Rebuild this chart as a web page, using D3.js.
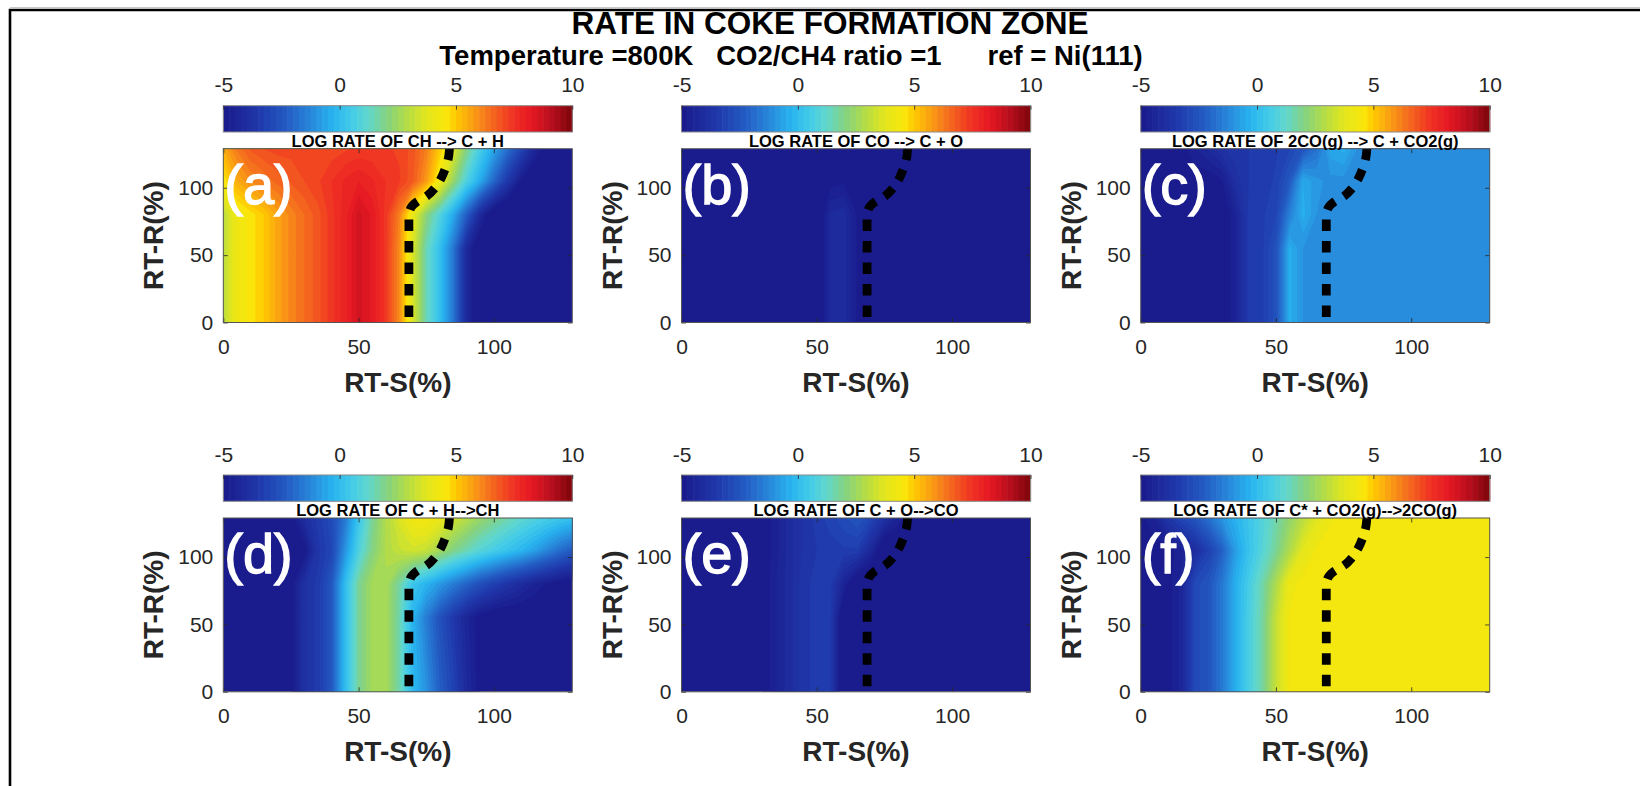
<!DOCTYPE html>
<html>
<head>
<meta charset="utf-8">
<script src="https://cdn.jsdelivr.net/npm/d3@7"></script>
<style>
  body { margin: 0; background: #fff; }
  svg { display: block; }
  text { font-family: "Liberation Sans", Arial, Helvetica, sans-serif; }
</style>
</head>
<body>
<svg id="chart" width="1640" height="786"></svg>
<script>
// ---- grid coordinates (RT-S along columns, RT-R along rows) ----
const rtS = [0,5,10,15,20,25,30,35,40,45,50,55,60,65,70,75,80,85,90,95,100,105,110,115,120,125,130];
const rtR = [0,55,80,105,129];

// ---- log rates, one row per RT-R value ----
const rateCH_CplusH = [
  [3.0,4.2,4.6,5.0,5.6,6.1,6.5,6.9,7.4,7.9,8.6,8.2,7.4,6.0,3.6,1.5,0.1,-1.6,-4.2,-5.5,-6,-6,-6,-6,-6,-6,-6],
  [3.0,4.2,4.6,5.0,5.6,6.1,6.5,6.9,7.4,7.9,8.6,8.2,7.4,6.0,3.6,1.5,0.1,-1.6,-4.2,-5.5,-6,-6,-6,-6,-6,-6,-6],
  [3.0,4.2,4.6,5.0,5.6,6.1,6.5,6.9,7.4,7.9,8.6,8.2,7.4,6.2,4.0,2.2,0.9,-0.5,-2.3,-4.2,-5.5,-6,-6,-6,-6,-6,-6],
  [4.5,5.5,6.0,6.3,6.6,6.8,7.0,7.2,7.5,7.8,8.0,7.8,7.5,7.3,6.8,5.8,4.2,2.4,0.8,-0.5,-2.0,-3.5,-4.8,-5.5,-6,-6,-6],
  [5.5,6.3,6.8,7.0,7.1,7.1,7.0,7.0,7.1,7.2,7.3,7.3,7.3,7.2,6.9,6.2,5.0,3.7,2.0,0.6,-0.6,-1.8,-3.0,-4.3,-5.2,-5.5,-5.5]
];
const rateCO_CplusO = [
  [-6,-6,-6,-6,-6,-6,-6,-6,-6,-6,-5.4,-4.2,-4.1,-4.8,-6,-6,-6,-6,-6,-6,-6,-6,-6,-6,-6,-6,-6],
  [-6,-6,-6,-6,-6,-6,-6,-6,-6,-6,-5.4,-4.2,-4.1,-4.8,-6,-6,-6,-6,-6,-6,-6,-6,-6,-6,-6,-6,-6],
  [-6,-6,-6,-6,-6,-6,-6,-6,-6,-6,-5.4,-4.2,-4.1,-4.8,-6,-6,-6,-6,-6,-6,-6,-6,-6,-6,-6,-6,-6],
  [-6,-6,-6,-6,-6,-6,-6,-6,-6,-6,-6,-4.9,-4.8,-5.6,-6,-6,-6,-6,-6,-6,-6,-6,-6,-6,-6,-6,-6],
  [-6,-6,-6,-6,-6,-6,-6,-6,-6,-6,-6,-6,-6,-6,-6,-6,-6,-6,-6,-6,-6,-6,-6,-6,-6,-6,-6]
];
const rate2CO_CplusCO2 = [
  [-5,-5,-5,-5,-5,-5,-5.2,-4.5,-3.4,-3.3,-2.6,-0.4,-1.0,-1.1,-1.1,-1.1,-1.1,-1.1,-1.1,-1.1,-1.1,-1.1,-1.1,-1.1,-1.1,-1.1,-1.1],
  [-5,-5,-5,-5,-5,-5,-5.2,-4.5,-3.4,-3.3,-2.6,-0.4,-1.0,-1.1,-1.1,-1.1,-1.1,-1.1,-1.1,-1.1,-1.1,-1.1,-1.1,-1.1,-1.1,-1.1,-1.1],
  [-5,-5,-5,-5,-5,-5,-5.2,-4.5,-3.4,-3.3,-3.0,-1.4,-0.4,-1.0,-1.1,-1.1,-1.1,-1.1,-1.1,-1.1,-1.1,-1.1,-1.1,-1.1,-1.1,-1.1,-1.1],
  [-5,-5,-5,-5,-5,-5,-4.8,-3.9,-3.5,-3.4,-3.2,-2.4,-0.5,-0.9,-1.1,-1.1,-1.1,-1.1,-1.1,-1.1,-1.1,-1.1,-1.1,-1.1,-1.1,-1.1,-1.1],
  [-5,-5,-5,-4.9,-4.5,-4.2,-3.8,-3.6,-3.5,-3.4,-3.3,-3.0,-2.5,-1.8,-0.6,-0.4,-1.0,-1.1,-1.1,-1.1,-1.1,-1.1,-1.1,-1.1,-1.1,-1.1,-1.1]
];
const rateCplusH_CH = [
  [-5.5,-5.5,-5.5,-5.5,-5.4,-5.0,-3.8,-3.4,-2.4,0.0,1.8,2.6,2.7,1.6,-0.1,-1.0,-2.2,-3.1,-4.2,-5.0,-5.5,-5.5,-5.5,-5.5,-5.5,-5.5,-5.5],
  [-5.5,-5.5,-5.5,-5.5,-5.4,-5.0,-3.8,-3.4,-2.4,0.0,1.8,2.6,2.7,1.6,-0.3,-1.5,-2.6,-3.5,-4.4,-5.0,-5.3,-5.3,-5.3,-5.3,-5.3,-5.3,-5.3],
  [-5.5,-5.5,-5.5,-5.5,-5.4,-5.0,-3.8,-3.4,-2.4,0.0,1.8,2.6,2.7,1.7,0.3,-0.3,-0.9,-1.5,-2.1,-2.7,-3.2,-3.7,-4.1,-4.5,-4.8,-5.1,-5.3],
  [-5.5,-5.5,-5.5,-5.5,-5.5,-5.3,-5.0,-3.6,-3.0,-1.0,0.8,2.0,2.8,3.2,3.4,3.2,2.6,2.0,1.5,1.0,0.6,0.2,-0.2,-0.7,-1.3,-1.9,-2.4],
  [-5.5,-5.5,-5.5,-5.5,-5.5,-5.0,-4.0,-3.4,-2.8,-1.6,0.3,1.8,2.8,3.6,4.3,4.4,4.0,3.4,2.9,2.4,2.0,1.6,1.2,0.9,0.6,0.3,0.1]
];
const rateCplusO_CO = [
  [-5.5,-5.5,-5.5,-5.5,-5.5,-5.5,-5.0,-4.5,-4.1,-3.6,-3.4,-3.4,-5.5,-5.5,-5.5,-5.5,-5.5,-5.5,-5.5,-5.5,-5.5,-5.5,-5.5,-5.5,-5.5,-5.5,-5.5],
  [-5.5,-5.5,-5.5,-5.5,-5.5,-5.5,-5.0,-4.5,-4.1,-3.6,-3.4,-3.4,-5.5,-5.5,-5.5,-5.5,-5.5,-5.5,-5.5,-5.5,-5.5,-5.5,-5.5,-5.5,-5.5,-5.5,-5.5],
  [-5.5,-5.5,-5.5,-5.5,-5.5,-5.5,-5.0,-4.5,-4.1,-3.6,-3.4,-3.4,-4.5,-5.5,-5.5,-5.5,-5.5,-5.5,-5.5,-5.5,-5.5,-5.5,-5.5,-5.5,-5.5,-5.5,-5.5],
  [-5.5,-5.5,-5.5,-5.5,-5.5,-5.5,-5.0,-4.6,-4.1,-3.7,-3.5,-3.4,-3.3,-3.3,-4.3,-5.5,-5.5,-5.5,-5.5,-5.5,-5.5,-5.5,-5.5,-5.5,-5.5,-5.5,-5.5],
  [-5.5,-5.5,-5.5,-5.5,-5.5,-5.5,-5.0,-4.6,-4.1,-3.7,-3.4,-3.1,-2.8,-2.5,-3.0,-3.8,-4.5,-5.5,-5.5,-5.5,-5.5,-5.5,-5.5,-5.5,-5.5,-5.5,-5.5]
];
const rateCstarCO2_2CO = [
  [-4.9,-4.9,-4.9,-4.4,-2.9,-2.5,-1.6,-0.4,0.7,1.7,3.2,4.3,4.4,4.4,4.4,4.4,4.4,4.4,4.4,4.4,4.4,4.4,4.4,4.4,4.4,4.4,4.4],
  [-4.9,-4.9,-4.9,-4.4,-2.9,-2.5,-1.6,-0.4,0.7,1.7,3.2,4.3,4.4,4.4,4.4,4.4,4.4,4.4,4.4,4.4,4.4,4.4,4.4,4.4,4.4,4.4,4.4],
  [-4.9,-4.9,-4.9,-4.4,-2.9,-2.5,-1.6,-0.4,0.6,1.6,2.8,4.1,4.4,4.4,4.4,4.4,4.4,4.4,4.4,4.4,4.4,4.4,4.4,4.4,4.4,4.4,4.4],
  [-4.9,-4.9,-4.9,-4.6,-4.0,-3.2,-2.2,-0.8,0.2,1.0,1.8,2.8,3.8,4.3,4.4,4.4,4.4,4.4,4.4,4.4,4.4,4.4,4.4,4.4,4.4,4.4,4.4],
  [-4.9,-4.5,-3.6,-3.0,-2.5,-1.8,-1.0,-0.3,0.3,0.9,1.6,2.3,3.0,3.7,4.2,4.4,4.4,4.4,4.4,4.4,4.4,4.4,4.4,4.4,4.4,4.4,4.4]
];

// ---- coke-formation zone boundary (dotted line) ----
const boundaryRTS = [68.6, 68.6, 69.3, 71.5, 75.0, 78.3, 80.5, 82.0, 83.2, 83.6];
const boundaryRTR = [0, 79, 85, 89.5, 93.5, 100, 107, 114, 122, 129];

// ---- labels and ticks ----
const panelLetters = ["(a)", "(b)", "(c)", "(d)", "(e)", "(f)"];
const panelTitles = [
  "LOG RATE OF CH --> C + H",
  "LOG RATE OF CO --> C + O",
  "LOG RATE OF 2CO(g) --> C + CO2(g)",
  "LOG RATE OF C + H-->CH",
  "LOG RATE OF C + O-->CO",
  "LOG RATE OF C* + CO2(g)-->2CO(g)"
];
const panelFields = [rateCH_CplusH, rateCO_CplusO, rate2CO_CplusCO2, rateCplusH_CH, rateCplusO_CO, rateCstarCO2_2CO];
const colorbarTicks = [-5, 0, 5, 10];
const xTicks = [0, 50, 100];
const yTicks = [0, 50, 100];
const titleLines = ["RATE IN COKE FORMATION ZONE", "Temperature =800K   CO2/CH4 ratio =1      ref = Ni(111)"];

// ---- colour map (jet-like) ----
const cmapStops  = [-5, -3.5, -2.3, -1.15, -0.3, 0.6, 1.3, 2.0, 2.9, 3.7, 4.6, 5.0, 5.7, 6.45, 7.45, 8.2, 9.0, 10];
const cmapColors = ["#1a1a8a","#1f37aa","#235ac3","#288cdc","#28b4f0","#46cde6","#64d7c8","#82d282","#b4dc46",
                    "#e1e61e","#fae60a","#ffc800","#faa014","#f56e1e","#f03223","#e61923","#be0f1e","#7d050a"];
const cmap = d3.scaleLinear().domain(cmapStops).range(cmapColors).interpolate(d3.interpolateRgb).clamp(true);
const step = 0.25;
const levels = d3.range(-5, 10, step);

// ---- layout ----
const svg = d3.select("#chart");
const colLefts = [223.3, 681.5, 1140.7];
const rowTops = [148.7, 518];
const plotW = 349, plotH = 173.8;
const axisColor = "#262626";
const tickFmt = d => String(d);

// frame around the figure
svg.append("line").attr("x1", 10).attr("x2", 1640).attr("y1", 7.5).attr("y2", 7.5)
  .attr("stroke", "#c8c8c8").attr("stroke-width", 1);
svg.append("path").attr("d", "M10,786V10H1640").attr("fill", "none")
  .attr("stroke", "#000").attr("stroke-width", 2.6);

// two-line figure title
svg.append("text").attr("x", 830).attr("y", 33.5).attr("text-anchor", "middle")
  .attr("font-size", 31.5).attr("font-weight", "bold").attr("fill", "#000").text(titleLines[0]);
svg.append("text").attr("x", 791).attr("y", 64.5).attr("text-anchor", "middle")
  .attr("xml:space", "preserve").style("white-space", "pre")
  .attr("font-size", 27.5).attr("font-weight", "bold").attr("fill", "#000").text(titleLines[1]);

const nCols = rtS.length, nRows = rtR.length;

// grid-space coordinate -> data value (d3.contours samples at cell centres)
function gridToData(g, n, coords) {
  const c = Math.max(0, Math.min(n - 1, g - 0.5));
  const i = Math.min(n - 2, Math.floor(c));
  return coords[i] + (c - i) * (coords[i + 1] - coords[i]);
}

panelFields.forEach((field, k) => {
  const col = k % 3, row = Math.floor(k / 3);
  const left = colLefts[col], top = rowTops[row];
  const bottom = top + plotH;

  const xs = d3.scaleLinear().domain([0, 129]).range([left, left + plotW]);
  const ys = d3.scaleLinear().domain([0, 129]).range([bottom, top]);

  const clipId = "clip-" + k;
  svg.append("clipPath").attr("id", clipId).append("rect")
    .attr("x", left).attr("y", top).attr("width", plotW).attr("height", plotH);

  const g = svg.append("g");
  const fieldG = g.append("g").attr("clip-path", `url(#${clipId})`);

  // values below the lowest level take the first colour
  fieldG.append("rect").attr("x", left).attr("y", top).attr("width", plotW).attr("height", plotH)
    .attr("fill", cmap(-5 + step / 2));

  const values = field.flat();
  const bands = d3.contours().size([nCols, nRows]).thresholds(levels)(values);
  const proj = d3.geoTransform({
    point: function (gx, gy) {
      this.stream.point(xs(gridToData(gx, nCols, rtS)), ys(gridToData(gy, nRows, rtR)));
    }
  });
  const path = d3.geoPath(proj);
  fieldG.selectAll("path.band").data(bands).join("path")
    .attr("class", "band")
    .attr("d", path)
    .attr("fill-rule", "evenodd")
    .attr("fill", d => cmap(d.value + step / 2));

  // coke-formation boundary
  const pts = boundaryRTR.map((r, i) => [boundaryRTS[i], r]).reverse();
  const line = d3.line().x(d => xs(d[0])).y(d => ys(d[1])).curve(d3.curveMonotoneY);
  fieldG.append("path").attr("d", line(pts)).attr("fill", "none")
    .attr("stroke", "#000").attr("stroke-width", 8.8)
    .attr("stroke-dasharray", "11.5,10").attr("stroke-linecap", "butt");

  // axes
  const xAxis = g.append("g").attr("transform", `translate(0,${bottom})`)
    .call(d3.axisBottom(xs).tickValues(xTicks).tickSize(-4.5).tickPadding(16.5).tickFormat(tickFmt));
  const yAxis = g.append("g").attr("transform", `translate(${left},0)`)
    .call(d3.axisLeft(ys).tickValues(yTicks).tickSize(-4.5).tickPadding(10).tickFormat(tickFmt));
  const xTop = g.append("g").attr("transform", `translate(0,${top})`)
    .call(d3.axisTop(xs).tickValues(xTicks).tickSize(-4.5).tickFormat(""));
  const yRight = g.append("g").attr("transform", `translate(${left + plotW},0)`)
    .call(d3.axisRight(ys).tickValues(yTicks).tickSize(-4.5).tickFormat(""));
  [xAxis, yAxis, xTop, yRight].forEach(a => {
    a.select(".domain").remove();
    a.selectAll(".tick line").attr("stroke", axisColor).attr("stroke-width", 0.8);
    a.selectAll(".tick text").attr("fill", axisColor).attr("font-size", 21)
      .attr("font-family", '"Liberation Sans", Arial, sans-serif');
  });
  g.append("rect").attr("x", left).attr("y", top).attr("width", plotW).attr("height", plotH)
    .attr("fill", "none").attr("stroke", "#555").attr("stroke-width", 1);

  // panel letter
  g.append("text").attr("x", left + 1).attr("y", top + 55)
    .attr("font-size", 56).attr("fill", "#fff")
    .attr("stroke", "#fff").attr("stroke-width", 1.3)
    .text(panelLetters[k]);

  // axis labels
  g.append("text").attr("x", left + plotW / 2).attr("y", bottom + 69.5)
    .attr("text-anchor", "middle").attr("font-size", 28).attr("font-weight", "bold").attr("fill", axisColor)
    .text("RT-S(%)");
  g.append("text").attr("transform", `translate(${left - 60},${top + plotH / 2}) rotate(-90)`)
    .attr("text-anchor", "middle").attr("font-size", 28).attr("font-weight", "bold").attr("fill", axisColor)
    .text("RT-R(%)");

  // colour bar
  const cbTop = top - 43, cbH = 26.3;
  const cbx = d3.scaleLinear().domain([-5, 10]).range([left, left + plotW]);
  g.selectAll("rect.cb").data(levels).join("rect").attr("class", "cb")
    .attr("x", d => cbx(d)).attr("y", cbTop)
    .attr("width", d => cbx(d + step) - cbx(d) + 0.6).attr("height", cbH)
    .attr("fill", d => cmap(d + step / 2));
  g.append("rect").attr("x", left).attr("y", cbTop).attr("width", plotW).attr("height", cbH)
    .attr("fill", "none").attr("stroke", "#8a8a8a").attr("stroke-width", 1);
  const cbAxis = g.append("g").attr("transform", `translate(0,${cbTop})`)
    .call(d3.axisTop(cbx).tickValues(colorbarTicks).tickSize(-4).tickPadding(13.3).tickFormat(tickFmt));
  cbAxis.select(".domain").remove();
  cbAxis.selectAll(".tick line").attr("stroke", axisColor).attr("stroke-width", 0.8);
  cbAxis.selectAll(".tick text").attr("fill", axisColor).attr("font-size", 21)
    .attr("font-family", '"Liberation Sans", Arial, sans-serif');

  // colour-bar title
  g.append("text").attr("x", left + plotW / 2).attr("y", top - 2.2)
    .attr("text-anchor", "middle").attr("font-size", 16.5).attr("font-weight", "bold").attr("fill", "#000")
    .text(panelTitles[k]);
});
</script>
</body>
</html>
